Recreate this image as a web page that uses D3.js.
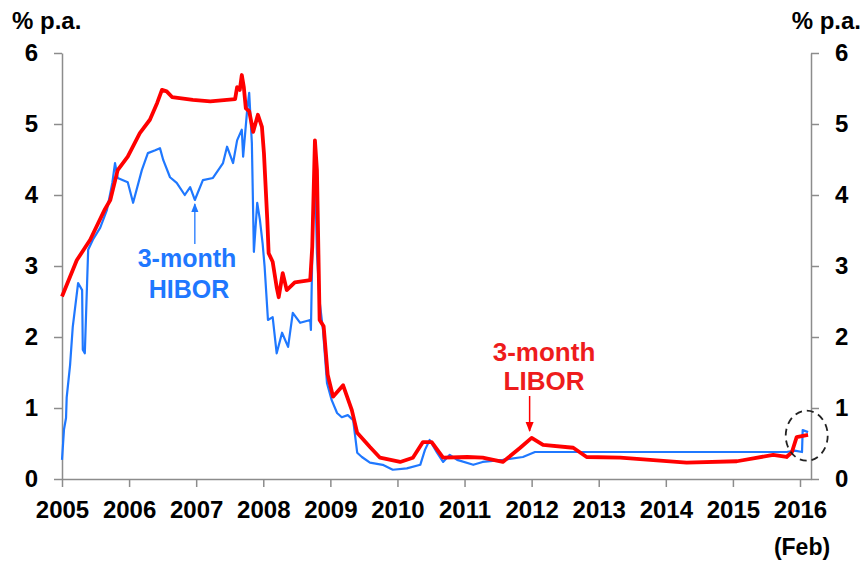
<!DOCTYPE html>
<html><head><meta charset="utf-8">
<script src="https://cdn.jsdelivr.net/npm/d3@7/dist/d3.min.js"></script>
<style>
html,body{margin:0;padding:0;background:#fff;}
text{font-family:"Liberation Sans",Arial,sans-serif;font-weight:bold;}
</style></head>
<body><svg id="chart" width="868" height="564"></svg>
<script>
// ---- data (decimal year, % p.a.) ----
const yearTicks = [2005,2006,2007,2008,2009,2010,2011,2012,2013,2014,2015,2016];
const valueTicks = [0,1,2,3,4,5,6];

const liborDates = [2005.00,2005.22,2005.42,2005.64,2005.72,2005.83,2005.98,2006.16,2006.31,2006.42,2006.49,2006.56,2006.64,2006.95,2007.21,2007.58,2007.61,2007.65,2007.68,2007.71,2007.74,2007.79,2007.85,2007.92,2007.98,2008.01,2008.06,2008.08,2008.14,2008.20,2008.23,2008.29,2008.35,2008.47,2008.70,2008.73,2008.77,2008.80,2008.84,2008.90,2008.96,2009.04,2009.19,2009.32,2009.40,2009.59,2009.74,2010.04,2010.23,2010.38,2010.51,2010.68,2011.04,2011.27,2011.57,2011.83,2012.00,2012.17,2012.62,2012.82,2013.32,2014.31,2015.06,2015.60,2015.80,2015.88,2015.95,2016.12];
const liborValues = [2.57,3.08,3.37,3.80,3.93,4.35,4.54,4.87,5.06,5.30,5.48,5.46,5.38,5.34,5.32,5.35,5.52,5.48,5.69,5.52,5.22,5.18,4.89,5.13,4.96,4.59,3.65,3.18,3.06,2.70,2.56,2.90,2.66,2.77,2.80,3.27,4.77,4.35,2.24,2.15,1.47,1.16,1.32,0.97,0.65,0.45,0.30,0.24,0.30,0.52,0.52,0.30,0.31,0.30,0.24,0.44,0.58,0.48,0.44,0.31,0.30,0.23,0.25,0.34,0.31,0.38,0.59,0.62];

const hiborDates = [2005.00,2005.03,2005.06,2005.07,2005.12,2005.16,2005.24,2005.30,2005.31,2005.34,2005.39,2005.46,2005.57,2005.67,2005.75,2005.79,2005.83,2005.98,2006.06,2006.19,2006.28,2006.39,2006.46,2006.51,2006.61,2006.71,2006.83,2006.91,2006.98,2007.10,2007.25,2007.40,2007.46,2007.55,2007.61,2007.68,2007.70,2007.76,2007.79,2007.83,2007.86,2007.91,2007.95,2007.99,2008.02,2008.07,2008.14,2008.20,2008.28,2008.37,2008.44,2008.55,2008.70,2008.71,2008.74,2008.77,2008.80,2008.84,2008.89,2008.95,2009.02,2009.10,2009.17,2009.26,2009.34,2009.40,2009.47,2009.59,2009.78,2009.93,2010.14,2010.34,2010.41,2010.48,2010.59,2010.68,2010.78,2010.89,2011.13,2011.27,2011.57,2011.87,2012.05,2012.87,2013.32,2014.81,2015.80,2015.92,2016.03,2016.04,2016.12];
const hiborValues = [0.27,0.70,0.86,1.15,1.60,2.14,2.76,2.66,1.82,1.77,3.23,3.37,3.54,3.79,4.17,4.45,4.24,4.18,3.89,4.35,4.59,4.63,4.66,4.49,4.25,4.17,4.00,4.11,3.93,4.21,4.24,4.45,4.68,4.45,4.77,4.92,4.54,5.20,5.44,4.73,3.20,3.89,3.65,3.32,2.99,2.24,2.28,1.77,2.06,1.86,2.34,2.20,2.24,2.10,3.65,4.39,3.18,2.50,2.10,1.35,1.11,0.93,0.87,0.90,0.83,0.37,0.31,0.23,0.20,0.13,0.15,0.20,0.41,0.55,0.37,0.24,0.34,0.27,0.20,0.24,0.27,0.31,0.38,0.38,0.38,0.38,0.38,0.40,0.38,0.69,0.66];

// ---- layout ----
const svg = d3.select("#chart");
const x = d3.scaleLinear().domain([2005, 2016.164]).range([62, 811]);
const y = d3.scaleLinear().domain([0, 6]).range([479, 53]);
const axisColor = "#8c8c8c";
const blue = "#1f78ff", red = "#ff0000";

function styleAxis(g){
  g.select(".domain").attr("stroke", axisColor).attr("stroke-width", 1.5);
  g.selectAll(".tick line").attr("stroke", axisColor).attr("stroke-width", 1.5);
  g.selectAll(".tick text").attr("fill", "#000").style("font-size", "24px").style("font-weight", "bold")
    .style("font-family", '"Liberation Sans", Arial, sans-serif');
}

svg.append("g").attr("transform", "translate(0,479)")
  .call(d3.axisBottom(x).tickValues(yearTicks).tickFormat(d3.format("d")).tickSize(8).tickPadding(14).tickSizeOuter(0))
  .call(styleAxis);
svg.append("g").attr("transform", "translate(62,0)")
  .call(d3.axisLeft(y).tickValues(valueTicks).tickFormat(d3.format("d")).tickSize(8).tickPadding(16).tickSizeOuter(0))
  .call(styleAxis);
svg.append("g").attr("transform", "translate(811,0)")
  .call(d3.axisRight(y).tickValues(valueTicks).tickFormat(d3.format("d")).tickSize(8).tickPadding(16).tickSizeOuter(0))
  .call(styleAxis);

// ---- lines ----
const line = d3.line().x(d => x(d[0])).y(d => y(d[1]));
const hibor = hiborDates.map((d,i) => [d, hiborValues[i]]);
const libor = liborDates.map((d,i) => [d, liborValues[i]]);

svg.append("path").datum(hibor).attr("d", line).attr("fill", "none")
  .attr("stroke", blue).attr("stroke-width", 2.2).attr("stroke-linejoin", "round");
svg.append("path").datum(libor).attr("d", line).attr("fill", "none")
  .attr("stroke", red).attr("stroke-width", 3.8).attr("stroke-linejoin", "round");

// ---- titles ----
svg.append("text").attr("x", 12).attr("y", 29).style("font-size", "24px").text("% p.a.");
svg.append("text").attr("x", 861).attr("y", 29).attr("text-anchor", "end").style("font-size", "24px").text("% p.a.");
svg.append("text").attr("x", 802).attr("y", 555).attr("text-anchor", "middle").style("font-size", "23px").text("(Feb)");

// ---- annotations ----
const defs = svg.append("defs");
function marker(id, color){
  defs.append("marker").attr("id", id).attr("viewBox", "0 0 10 10").attr("refX", 9).attr("refY", 5)
    .attr("markerWidth", 7).attr("markerHeight", 7).attr("orient", "auto-start-reverse")
    .append("path").attr("d", "M0,1 L10,5 L0,9 Z").attr("fill", color);
}
marker("arrB", blue); marker("arrR", red);

svg.append("text").attr("x", 187).attr("y", 267).attr("text-anchor", "middle").attr("fill", blue).style("font-size", "25px").text("3-month");
svg.append("text").attr("x", 189).attr("y", 298).attr("text-anchor", "middle").attr("fill", blue).style("font-size", "25px").text("HIBOR");
svg.append("line").attr("x1", x(2006.98)).attr("x2", x(2006.98)).attr("y1", 244).attr("y2", 204)
  .attr("stroke", blue).attr("stroke-width", 1.3).attr("marker-end", "url(#arrB)");

svg.append("text").attr("x", 544).attr("y", 361).attr("text-anchor", "middle").attr("fill", "#ee1c1c").style("font-size", "26px").text("3-month");
svg.append("text").attr("x", 544).attr("y", 390).attr("text-anchor", "middle").attr("fill", "#ee1c1c").style("font-size", "26px").text("LIBOR");
svg.append("line").attr("x1", x(2011.97)).attr("x2", x(2011.97)).attr("y1", 396).attr("y2", 431)
  .attr("stroke", red).attr("stroke-width", 1.5).attr("marker-end", "url(#arrR)");

svg.append("ellipse").attr("cx", x(2016.10)).attr("cy", y(0.61)).attr("rx", 21).attr("ry", 25)
  .attr("fill", "none").attr("stroke", "#222").attr("stroke-width", 1.8).attr("stroke-dasharray", "7,5");
</script></body></html>
